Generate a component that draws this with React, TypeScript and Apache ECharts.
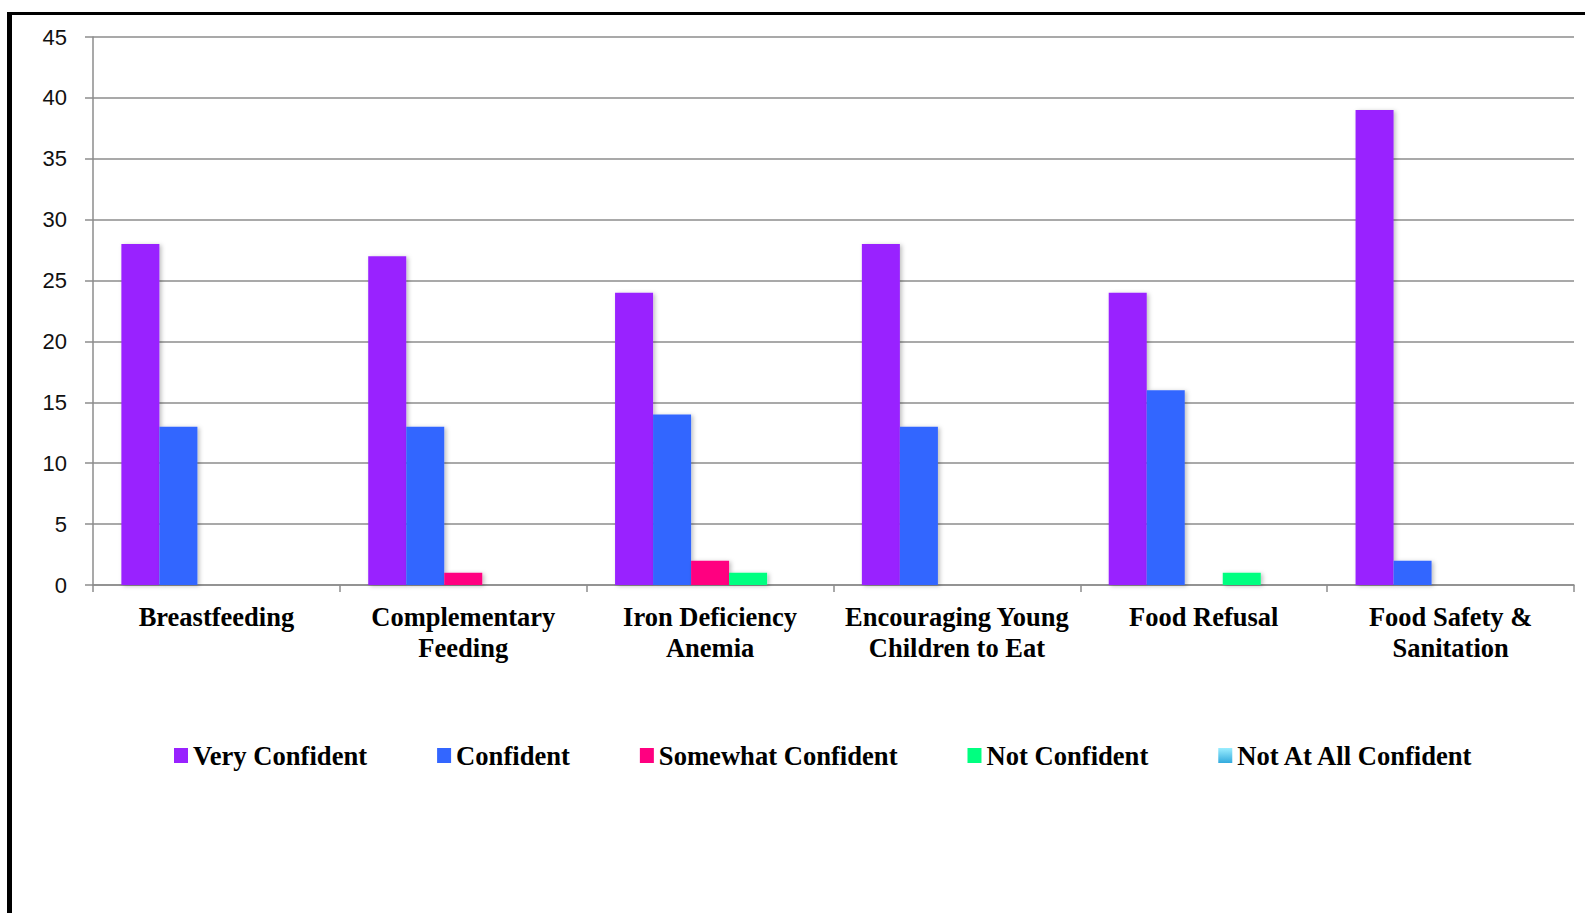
import React, { useEffect, useRef } from "react";
import * as echarts from "echarts";

const categories = [
  "Breastfeeding",
  "Complementary\nFeeding",
  "Iron Deficiency\nAnemia",
  "Encouraging Young\nChildren to Eat",
  "Food Refusal",
  "Food Safety &\nSanitation",
];
const seriesNames = [
  "Very Confident",
  "Confident",
  "Somewhat Confident",
  "Not Confident",
  "Not At All Confident",
];
const veryConfident = [28, 27, 24, 28, 24, 39];
const confident = [13, 13, 14, 13, 16, 2];
const somewhatConfident = [0, 1, 2, 0, 0, 0];
const notConfident = [0, 0, 1, 0, 1, 0];
const notAtAllConfident = [0, 0, 0, 0, 0, 0];
const yTicks = { min: 0, max: 45, interval: 5 };

export default function App() {
  const ref = useRef<HTMLDivElement>(null);
  useEffect(() => {
    if (!ref.current) return;
    const chart = echarts.init(ref.current, null, { renderer: "svg" });
    const colors: any[] = [
      "#9922FF",
      "#3366FF",
      "#FF0080",
      "#00FF80",
      new echarts.graphic.LinearGradient(0, 0, 0, 1, [
        { offset: 0, color: "#9BEEFF" },
        { offset: 1, color: "#33AADD" },
      ]),
    ];
    const allData = [veryConfident, confident, somewhatConfident, notConfident, notAtAllConfident];
    const serif = "'Liberation Serif', 'Times New Roman', serif";
    chart.setOption({
      animation: false,
      backgroundColor: "#ffffff",
      grid: { left: 93, right: 11, top: 37, bottom: 328, containLabel: false },
      legend: {
        left: 169,
        top: 737,
        itemWidth: 14,
        itemHeight: 15,
        itemGap: 70,
        icon: "rect",
        textStyle: { fontFamily: serif, fontWeight: "bold", fontSize: 26.6, color: "#000" },
        data: seriesNames,
      },
      xAxis: {
        type: "category",
        data: categories,
        axisLine: { lineStyle: { color: "#8c8c8c", width: 1.5 } },
        axisTick: { show: true, length: 7, lineStyle: { color: "#8c8c8c", width: 1.5 } },
        axisLabel: {
          interval: 0,
          margin: 17,
          fontFamily: serif,
          fontWeight: "bold",
          fontSize: 26.5,
          lineHeight: 30.5,
          color: "#000",
        },
      },
      yAxis: {
        type: "value",
        min: yTicks.min,
        max: yTicks.max,
        interval: yTicks.interval,
        axisLine: { show: true, lineStyle: { color: "#8c8c8c", width: 1.5 } },
        axisTick: { show: true, length: 8, lineStyle: { color: "#8c8c8c", width: 1.5 } },
        splitLine: { lineStyle: { color: "#8c8c8c", width: 1.5 } },
        axisLabel: {
          margin: 26,
          fontFamily: "'Liberation Sans', Arial, sans-serif",
          fontSize: 22,
          color: "#111",
        },
      },
      series: seriesNames.map((name, i) => ({
        name,
        type: "bar",
        data: allData[i],
        barGap: "0%",
        barCategoryGap: "23%",
        itemStyle: {
          color: colors[i],
          shadowColor: "rgba(0,0,0,0.25)",
          shadowBlur: 4,
          shadowOffsetX: 2,
          shadowOffsetY: 1,
        },
      })),
      graphic: [
        { type: "rect", left: 7, top: 12, shape: { width: 5, height: 901 }, style: { fill: "#000" } },
        { type: "rect", left: 7, top: 12, shape: { width: 1578, height: 3 }, style: { fill: "#000" } },
      ],
    });
    return () => chart.dispose();
  }, []);
  return (
    <div
      ref={ref}
      style={{ position: "fixed", left: 0, top: 0, width: 1585, height: 913 }}
    />
  );
}
